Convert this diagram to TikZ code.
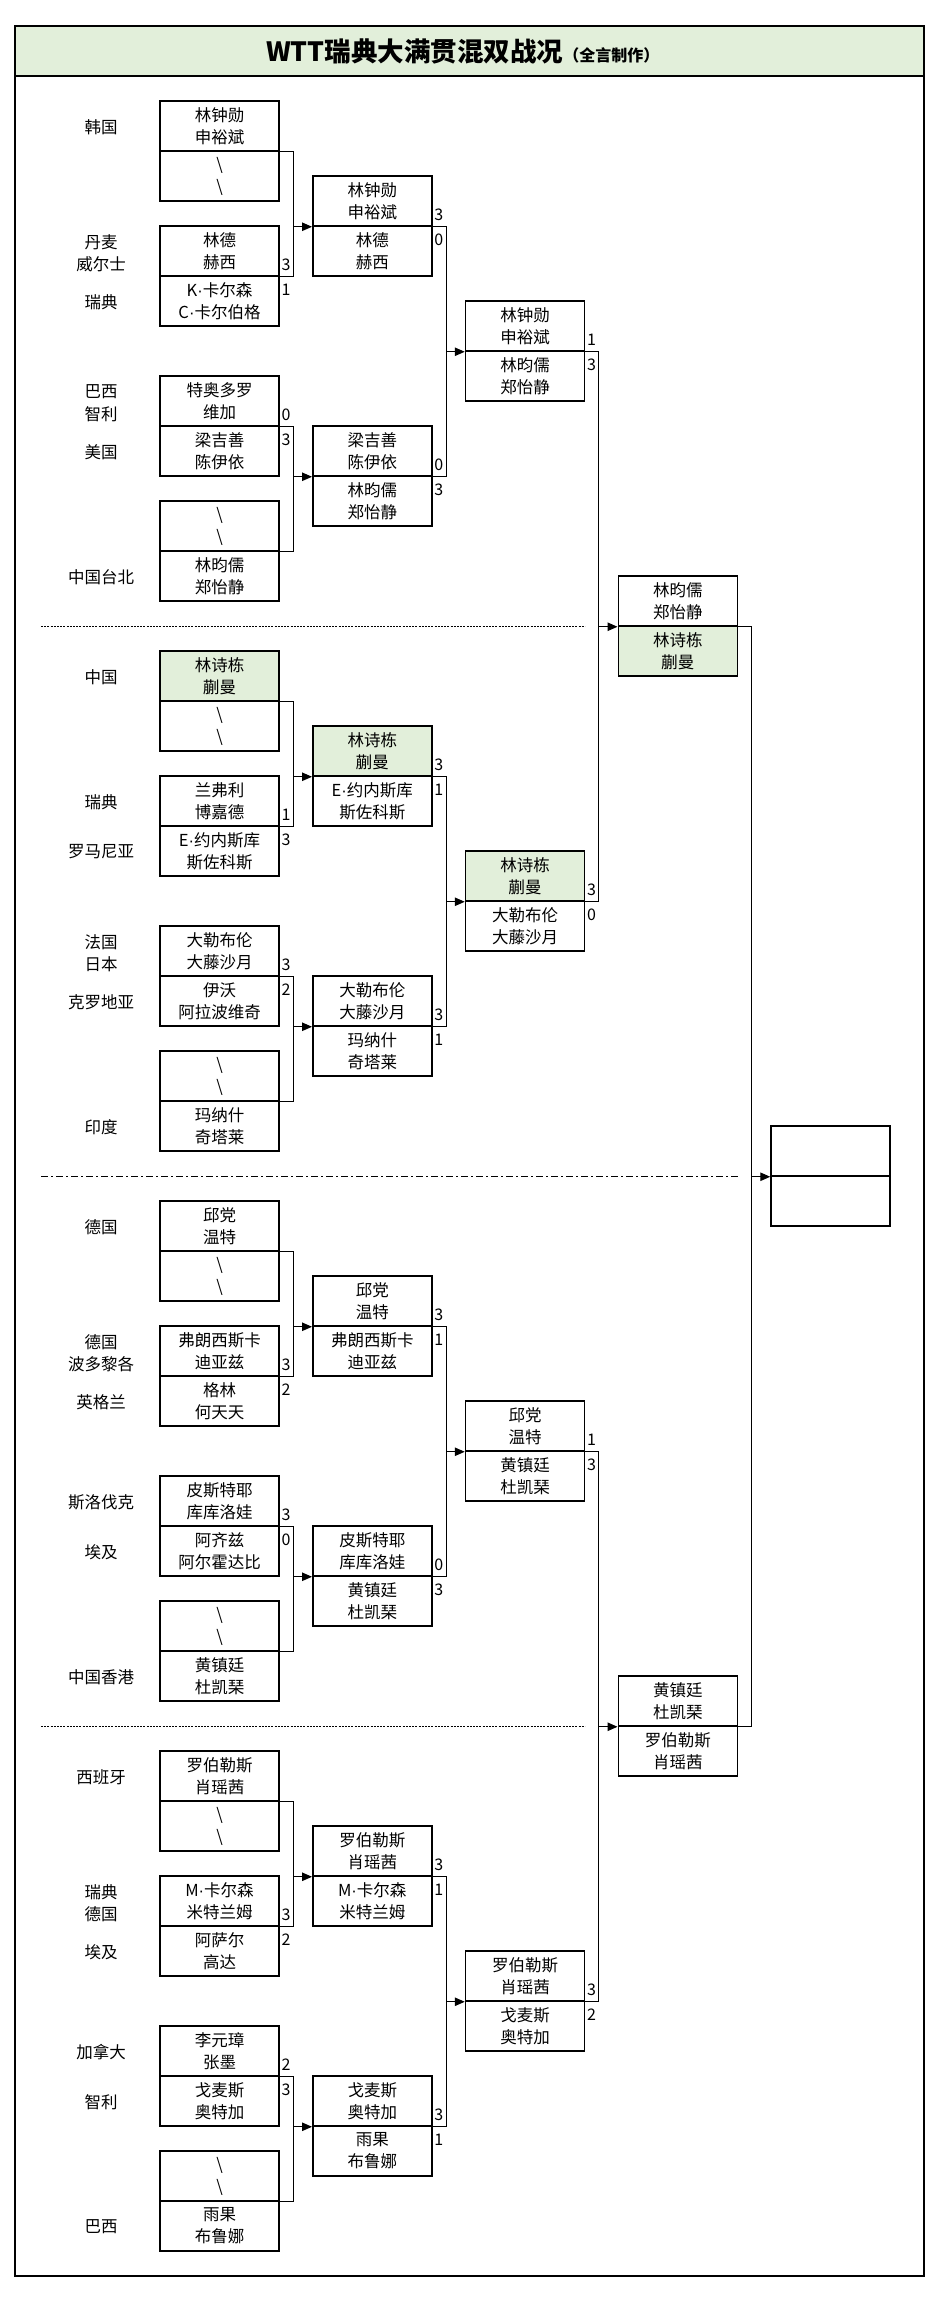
\documentclass[tikz,border=0pt]{standalone}
\usepackage{fontspec}
\setmainfont{Noto Sans CJK SC}
\newfontfamily\dotfont{Liberation Sans}
\newcommand{\mdot}{{\dotfont ·}}
\usetikzlibrary{arrows.meta}
\definecolor{wingreen}{HTML}{E2EFDA}

\begin{document}
\begin{tikzpicture}[
		x=1pt, y=-1pt,
		>={Triangle[length=10pt,width=8.5pt]},
		cell/.style={rectangle, draw, line width=1.5pt, minimum width=119pt, minimum height=50pt, inner sep=0pt, align=center, font=\fontsize{16.5}{22}\selectfont},
		land/.style={inner sep=0pt, align=center, font=\fontsize{16.5}{22.5}\selectfont},
		score/.style={inner sep=0pt, font=\fontsize{16}{18}\selectfont},
		link/.style={line width=1pt},
		sep line/.style={line width=1pt, dash pattern=on 2pt off 1.2pt}
	]
		\useasboundingbox (0,0) rectangle (936,2303);

		\draw[line width=2.5pt, fill=wingreen] (15,26) rectangle (924,76);
		\draw[line width=2.5pt] (15,26) rectangle (924,2276);
		\node[anchor=base west, inner sep=0pt] (title) at (266,61) {\fontsize{26.5}{30}\selectfont\bfseries WTT瑞典大满贯混双战况\fontsize{16}{20}\selectfont（全言制作）};

		\draw[sep line] (41,626) -- (585,626);
		\draw[line width=1pt, dash pattern=on 7pt off 3pt on 2pt off 3pt] (41,1176) -- (738,1176);
		\draw[sep line] (41,1726) -- (585,1726);

		\foreach \rw/\name [count=\i] in {2/韩国, 7.05/丹麦\\威尔士, 9/瑞典, 13.05/巴西\\智利, 15/美国, 20/中国台北,
			24/中国, 29/瑞典, 31/罗马尼亚, 35.05/法国\\日本, 37/克罗地亚, 42/印度,
			46/德国, 51.05/德国\\波多黎各, 53/英格兰, 57/斯洛伐克, 59/埃及, 64/中国香港,
			68/西班牙, 73.05/瑞典\\德国, 75/埃及, 79/加拿大, 81/智利, 86/巴西} {
			\node[land] (land\i) at (101,{77+25*\rw}) {\name};
		}

		\foreach \col/\rw/\na/\nb/\fl in {
			1/1/林钟勋/申裕斌/none, 1/3/\textbackslash/\textbackslash/none,
			1/6/林德/赫西/none, 1/8/K\mdot 卡尔森/C\mdot 卡尔伯格/none,
			1/12/特奥多罗/维加/none, 1/14/梁吉善/陈伊依/none,
			1/17/\textbackslash/\textbackslash/none, 1/19/林昀儒/郑怡静/none,
			1/23/林诗栋/蒯曼/wingreen, 1/25/\textbackslash/\textbackslash/none,
			1/28/兰弗利/博嘉德/none, 1/30/E\mdot 约内斯库/斯佐科斯/none,
			1/34/大勒布伦/大藤沙月/none, 1/36/伊沃/阿拉波维奇/none,
			1/39/\textbackslash/\textbackslash/none, 1/41/玛纳什/奇塔莱/none,
			1/45/邱党/温特/none, 1/47/\textbackslash/\textbackslash/none,
			1/50/弗朗西斯卡/迪亚兹/none, 1/52/格林/何天天/none,
			1/56/皮斯特耶/库库洛娃/none, 1/58/阿齐兹/阿尔霍达比/none,
			1/61/\textbackslash/\textbackslash/none, 1/63/黄镇廷/杜凯琹/none,
			1/67/罗伯勒斯/肖瑶茜/none, 1/69/\textbackslash/\textbackslash/none,
			1/72/M\mdot 卡尔森/米特兰姆/none, 1/74/阿萨尔/高达/none,
			1/78/李元璋/张墨/none, 1/80/戈麦斯/奥特加/none,
			1/83/\textbackslash/\textbackslash/none, 1/85/雨果/布鲁娜/none,
			2/4/林钟勋/申裕斌/none, 2/6/林德/赫西/none,
			2/14/梁吉善/陈伊依/none, 2/16/林昀儒/郑怡静/none,
			2/26/林诗栋/蒯曼/wingreen, 2/28/E\mdot 约内斯库/斯佐科斯/none,
			2/36/大勒布伦/大藤沙月/none, 2/38/玛纳什/奇塔莱/none,
			2/48/邱党/温特/none, 2/50/弗朗西斯卡/迪亚兹/none,
			2/58/皮斯特耶/库库洛娃/none, 2/60/黄镇廷/杜凯琹/none,
			2/70/罗伯勒斯/肖瑶茜/none, 2/72/M\mdot 卡尔森/米特兰姆/none,
			2/80/戈麦斯/奥特加/none, 2/82/雨果/布鲁娜/none,
			3/9/林钟勋/申裕斌/none, 3/11/林昀儒/郑怡静/none,
			3/31/林诗栋/蒯曼/wingreen, 3/33/大勒布伦/大藤沙月/none,
			3/53/邱党/温特/none, 3/55/黄镇廷/杜凯琹/none,
			3/75/罗伯勒斯/肖瑶茜/none, 3/77/戈麦斯/奥特加/none,
			4/20/林昀儒/郑怡静/none, 4/22/林诗栋/蒯曼/wingreen,
			4/64/黄镇廷/杜凯琹/none, 4/66/罗伯勒斯/肖瑶茜/none,
			5/42/{}/{}/none, 5/44/{}/{}/none} {
			\node[cell, fill=\fl] (c\col-\rw) at ({219.5+152.75*(\col-1)},{101+25*\rw}) {\na\\\nb};
		}

		\foreach \col/\md/\up/\dn in {
			1/8/3/1, 1/14/0/3, 1/30/1/3, 1/36/3/2, 1/52/3/2, 1/58/3/0, 1/74/3/2, 1/80/2/3,
			2/6/3/0, 2/16/0/3, 2/28/3/1, 2/38/3/1, 2/50/3/1, 2/60/0/3, 2/72/3/1, 2/82/3/1,
			3/11/1/3, 3/33/3/0, 3/55/1/3, 3/77/3/2} {
			\node[score] (u\col-\md) at ({286+152.75*(\col-1)},{65+25*\md}) {\up};
			\node[score] (d\col-\md) at ({286+152.75*(\col-1)},{90+25*\md}) {\dn};
		}

		\foreach \col/\ua/\ub/\tg [evaluate=\col as \nx using int(\col+1)] in {
			1/1/6/4, 1/12/17/14, 1/23/28/26, 1/34/39/36, 1/45/50/48, 1/56/61/58, 1/67/72/70, 1/78/83/80,
			2/4/14/9, 2/26/36/31, 2/48/58/53, 2/70/80/75,
			3/9/31/20, 3/53/75/64,
			4/20/64/42} {
			\draw[link] (c\col-\ua.south east) -- ++(13.5,0) coordinate (k\col-\ua) |- (c\col-\ub.south east);
			\draw[link,->] (k\col-\ua |- c\nx-\tg.south west) -- (c\nx-\tg.south west);
		}
	\end{tikzpicture}
\end{document}
